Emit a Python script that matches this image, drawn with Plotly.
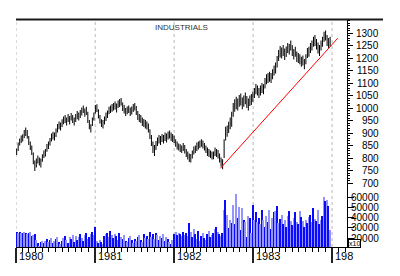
import plotly.graph_objects as go
import pandas as pd

# ---------------- data (weekly) ----------------
highs_1980 = [838,862,878,890,895,912,922,912,888,866,850,822,790,798,810,802,798,815,830,836,856,866,880,898,905,902,918,936,946,942,955,966,972,962,976,968,980,972,962,976,988,982,992,1002,1010,998,1005,985,952,935,962,982]
lows_1980 = [812,828,850,860,866,880,888,878,852,832,812,775,748,762,778,770,762,785,800,806,825,836,850,866,874,870,884,902,915,910,924,935,940,930,944,934,950,940,930,944,955,950,960,970,980,965,972,940,915,902,928,950]
highs_1981 = [1012,1015,995,972,955,952,966,982,990,1005,1010,1016,1020,1026,1018,1030,1036,1040,1022,1012,1000,1006,1010,1002,1006,1016,1020,1008,988,976,972,962,956,952,946,938,915,892,866,852,868,882,892,888,896,892,902,898,906,910,902,896]
lows_1981 = [978,984,958,938,924,918,934,948,960,975,980,985,990,994,982,1000,1004,1010,988,978,968,975,980,968,974,984,990,972,952,944,940,928,924,918,914,902,876,848,820,808,832,848,858,852,864,858,868,862,874,878,868,864]
highs_1982 = [890,875,866,858,855,850,860,852,836,826,818,816,830,846,850,862,866,870,875,870,860,850,842,836,830,826,826,842,836,832,818,802,795,875,925,930,945,962,985,1020,1035,1045,1038,1052,1058,1042,1050,1062,1048,1038,1050,1056]
lows_1982 = [860,845,834,830,824,820,828,818,804,794,784,782,798,814,820,828,834,840,845,838,830,820,808,804,800,794,795,808,804,798,782,766,755,800,870,885,900,915,925,965,985,995,990,1005,1010,995,1005,1015,1000,990,1008,1012]
highs_1983 = [1066,1080,1096,1090,1080,1090,1100,1095,1120,1135,1140,1145,1140,1155,1170,1182,1208,1232,1248,1242,1252,1238,1246,1260,1256,1270,1252,1236,1245,1226,1220,1215,1205,1210,1196,1215,1240,1245,1260,1270,1285,1292,1276,1262,1252,1270,1285,1305,1310,1292,1280,1285]
lows_1983 = [1025,1040,1055,1050,1040,1050,1060,1055,1078,1095,1100,1105,1100,1115,1130,1138,1162,1188,1202,1198,1208,1192,1204,1220,1214,1230,1208,1194,1205,1184,1180,1175,1165,1170,1155,1175,1200,1205,1220,1230,1245,1248,1234,1218,1208,1230,1245,1265,1270,1248,1240,1245]

volume_1980 = [26000,25500,26000,25500,25000,26000,25000,24500,25500,26000,22000,23500,24000,18000,15000,12500,16000,17500,15500,17000,19000,16500,18000,20000,15500,17500,19500,21000,16000,14500,17000,20000,22500,18000,15000,21500,19000,23500,16500,22000,18500,21000,24500,20000,17500,23000,25500,19500,21500,24000,26000,23500]
volume_1981 = [31000,17000,15500,18500,16000,14500,22500,24500,25500,21000,27000,23500,20500,24000,22000,18500,25000,21500,19000,23500,17500,16000,20000,22500,18500,15000,19500,17000,21000,23000,18000,16500,24500,20500,22000,19000,26500,21500,24000,19500,25500,23000,18500,22000,20500,24500,17000,21000,19500,16000,14000,18500]
volume_1982 = [24500,26000,23000,25500,24000,22500,26000,23500,25000,22000,35000,26500,21000,28500,24000,19500,27000,17500,22500,25500,20000,18500,24000,27000,21500,23500,25000,29000,31000,26000,24500,22000,25000,47000,57000,42500,30000,38000,35000,52000,34000,63000,40000,50000,28000,49000,38000,36000,21000,42000,40000,25000]
volume_1983 = [52000,38000,45000,36000,40000,34000,47000,38000,31000,42000,36000,47000,29000,40000,45000,46000,51000,35000,39000,43000,34000,38000,31000,42000,46000,37000,33000,40000,45000,36000,34000,46000,41000,37000,31000,38000,35000,41000,43000,36000,49000,39000,37000,47000,34000,38000,42000,60000,56000,57000,51000,28000]

trend_dates = ["1982-08-03", "1984-01-27"]
trend_values = [759, 1279]

price_ticks = [700, 750, 800, 850, 900, 950, 1000, 1050, 1100, 1150, 1200, 1250, 1300]
volume_ticks = [20000, 30000, 40000, 50000, 60000]
year_positions = ["1980-01-01", "1981-01-01", "1982-01-01", "1983-01-01", "1984-01-01"]
year_labels = ["1980", "1981", "1982", "1983", "198"]
title_text = "INDUSTRIALS"
volume_unit = "x10"

# ---------------- build ----------------
highs = highs_1980 + highs_1981 + highs_1982 + highs_1983
lows = lows_1980 + lows_1981 + lows_1982 + lows_1983
volume = volume_1980 + volume_1981 + volume_1982 + volume_1983
dates = pd.date_range("1980-01-04", periods=len(highs), freq="7D")

bx, by = [], []
for d, lo, hi in zip(dates, lows, highs):
    bx += [d, d, None]
    by += [lo, hi, None]

FONT = "Liberation Sans, Arial, sans-serif"
fig = go.Figure()

vol_colors = ["#0a0aff" if i % 2 == 0 else "#9494ff" for i in range(len(volume))]
fig.add_trace(go.Bar(x=dates, y=volume, yaxis="y2", marker=dict(color=vol_colors, line=dict(width=0)),
                     width=6 * 86400000, hoverinfo="skip"))
fig.add_trace(go.Scatter(x=bx, y=by, mode="lines", line=dict(color="black", width=1),
                         hoverinfo="skip"))
fig.add_trace(go.Scatter(x=trend_dates, y=trend_values, mode="lines",
                         line=dict(color="#ff0000", width=1), hoverinfo="skip"))

L, R, T, B = 16, 53, 20, 29
W, H = 400, 276
pw, ph = W - L - R, H - T - B

fig.update_layout(
    width=W, height=H, margin=dict(l=L, r=R, t=T, b=B),
    paper_bgcolor="white", plot_bgcolor="white", showlegend=False, bargap=0,
    font=dict(family=FONT, size=10, color="black"),
    xaxis=dict(type="date", range=["1980-01-01", "1984-03-10"], showgrid=False, zeroline=False,
               showline=True, linecolor="black", linewidth=1,
               ticks="outside", tick0="1980-01-01", dtick="M12", ticklen=15, tickwidth=2,
               tickcolor="#222", showticklabels=False,
               minor=dict(ticks="outside", tick0="1980-01-01", dtick="M1", ticklen=4,
                          tickwidth=1, tickcolor="black", showgrid=False)),
    yaxis=dict(side="right", range=[444, 1352], showgrid=False, zeroline=False,
               showline=True, linecolor="black", linewidth=1,
               tickmode="array", tickvals=price_ticks, ticks="outside", ticklen=5,
               tickcolor="black", showticklabels=False,
               minor=dict(tickmode="array", tickvals=list(range(700, 1351, 10)), ticks="outside",
                          ticklen=2, tickcolor="black", showgrid=False)),
    yaxis2=dict(side="right", overlaying="y", anchor="x", range=[11500, 231690], showgrid=False,
                zeroline=False, showline=False, tickmode="array", tickvals=volume_ticks,
                ticks="outside", ticklen=6, tickcolor="black", showticklabels=False),
)

shapes = []
for yp in year_positions:
    shapes.append(dict(type="line", xref="x", yref="paper", x0=yp, x1=yp, y0=0, y1=1,
                       line=dict(color="#b8b8b8", width=1, dash="3px,3px"), layer="below"))
shapes.append(dict(type="line", xref="paper", yref="paper", x0=0, x1=(383 - L) / pw, y0=1.002, y1=1.002,
                   line=dict(color="#1a1a1a", width=2)))
fig.update_layout(shapes=shapes)

ann = []
lab_x = (381 - L) / pw
for v in price_ticks:
    ann.append(dict(x=lab_x, xref="paper", y=v, yref="y", text=str(v), showarrow=False,
                    xanchor="right", yanchor="middle", font=dict(size=10)))
for v in volume_ticks:
    ann.append(dict(x=lab_x, xref="paper", y=v, yref="y2", text=str(v), showarrow=False,
                    xanchor="right", yanchor="middle", font=dict(size=10)))
ann.append(dict(x=(348 - L) / pw, xref="paper", y=(247 - 243) / ph, yref="paper", text=volume_unit,
                showarrow=False, xanchor="left", yanchor="middle", font=dict(size=7),
                bgcolor="white", bordercolor="black", borderwidth=1, borderpad=0))
for yp, lab in zip(year_positions, year_labels):
    ann.append(dict(x=yp, xref="x", y=(247 - 256) / ph, yref="paper", text=lab, showarrow=False,
                    xanchor="left", yanchor="middle", xshift=1, font=dict(size=11)))
ann.append(dict(x=(181 - L) / pw, xref="paper", y=(247 - 27) / ph, yref="paper", text=title_text,
                showarrow=False, xanchor="center", yanchor="middle", font=dict(size=8, color="#333")))
fig.update_layout(annotations=ann)

fig.write_html("out.html")
